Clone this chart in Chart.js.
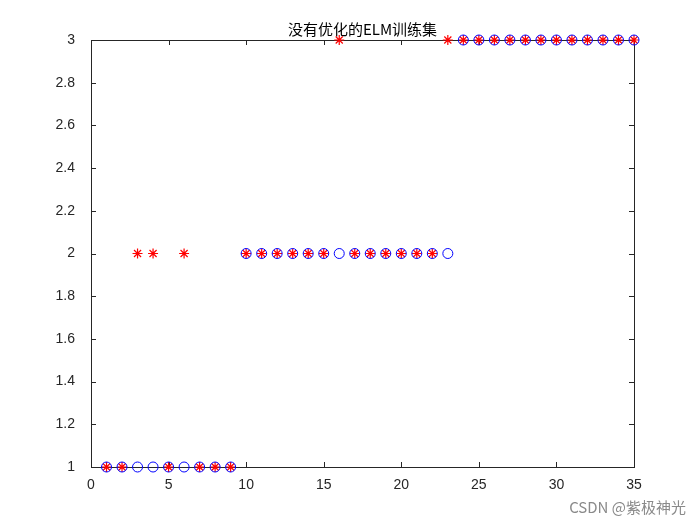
<!DOCTYPE html>
<html>
<head>
<meta charset="utf-8">
<script src="https://cdn.jsdelivr.net/npm/chart.js@4"></script>
<style>
  html, body { margin: 0; padding: 0; background: #fff; }
  #wrap { position: relative; width: 700px; height: 525px; }
  #mark { position: absolute; right: 14px; bottom: 8px; font: 15px "Noto Sans CJK SC", sans-serif; color: #8a8a8a; }
</style>
</head>
<body>
<div id="wrap">
  <canvas id="elmChart" width="700" height="525"></canvas>
  <div id="mark">CSDN @紫极神光</div>
</div>
<script>
// sample index 1..35
const samples = Array.from({ length: 35 }, (_, i) => i + 1);
// true class (blue circles)
const actual = [1,1,1,1,1,1,1,1,1, 2,2,2,2,2,2,2,2,2,2,2,2,2,2, 3,3,3,3,3,3,3,3,3,3,3,3];
// predicted class (red stars)
const predicted = [1,1,2,2,1,2,1,1,1, 2,2,2,2,2,2,3,2,2,2,2,2,2,3, 3,3,3,3,3,3,3,3,3,3,3,3];
const xTicks = [0,5,10,15,20,25,30,35];
const yTicks = [1,1.2,1.4,1.6,1.8,2,2.2,2.4,2.6,2.8,3];

const font = { family: 'Arial, "Liberation Sans", sans-serif', size: 14 };

// MATLAB-like box with inward ticks and title
const boxPlugin = {
    id: 'box',
    beforeDatasetsDraw(chart) {
        const { ctx, chartArea: a, scales } = chart;
        ctx.save();
        ctx.strokeStyle = '#262626';
        ctx.lineWidth = 1;
        ctx.strokeRect(a.left + 0.5, a.top + 0.5, a.right - a.left, a.bottom - a.top);
        ctx.beginPath();
        xTicks.forEach(v => {
            const x = Math.round(scales.x.getPixelForValue(v)) + 0.5;
            ctx.moveTo(x, a.bottom); ctx.lineTo(x, a.bottom - 5);
            ctx.moveTo(x, a.top); ctx.lineTo(x, a.top + 5);
        });
        yTicks.forEach(v => {
            const y = Math.round(scales.y.getPixelForValue(v)) + 0.5;
            ctx.moveTo(a.left, y); ctx.lineTo(a.left + 5, y);
            ctx.moveTo(a.right, y); ctx.lineTo(a.right - 5, y);
        });
        ctx.stroke();
        ctx.fillStyle = '#000';
        ctx.font = '15px "Noto Sans CJK SC", sans-serif';
        ctx.textAlign = 'center';
        ctx.textBaseline = 'bottom';
        ctx.fillText('没有优化的ELM训练集', (a.left + a.right) / 2, a.top - 3);
        ctx.restore();
    }
};

const ctx = document.getElementById('elmChart').getContext('2d');
new Chart(ctx, {
    type: 'scatter',
    data: {
        datasets: [{
            label: 'actual',
            data: samples.map((s, i) => ({ x: s, y: actual[i] })),
            pointStyle: 'circle',
            pointRadius: 5,
            borderColor: '#0000ff',
            backgroundColor: 'rgba(0,0,0,0)',
            borderWidth: 1,
            clip: false
        }, {
            label: 'predicted',
            data: samples.map((s, i) => ({ x: s, y: predicted[i] })),
            pointStyle: 'star',
            pointRadius: 5,
            borderColor: '#ff0000',
            backgroundColor: '#ff0000',
            borderWidth: 1.2,
            clip: false
        }]
    },
    options: {
        responsive: false,
        animation: false,
        layout: { padding: { top: 40, right: 66, left: 0, bottom: 0 } },
        plugins: { legend: { display: false }, tooltip: { enabled: false } },
        scales: {
            x: {
                min: 0, max: 35,
                afterBuildTicks: s => { s.ticks = xTicks.map(v => ({ value: v })); },
                afterFit: s => { s.height = 58; },
                grid: { display: false },
                border: { display: false },
                ticks: { color: '#262626', font, padding: 2 }
            },
            y: {
                min: 1, max: 3,
                afterBuildTicks: s => { s.ticks = yTicks.map(v => ({ value: v })); },
                afterFit: s => { s.width = 91; },
                grid: { display: false },
                border: { display: false },
                ticks: { color: '#262626', font, padding: 8, callback: v => String(Math.round(v * 10) / 10) }
            }
        }
    },
    plugins: [boxPlugin]
});
</script>
</body>
</html>
